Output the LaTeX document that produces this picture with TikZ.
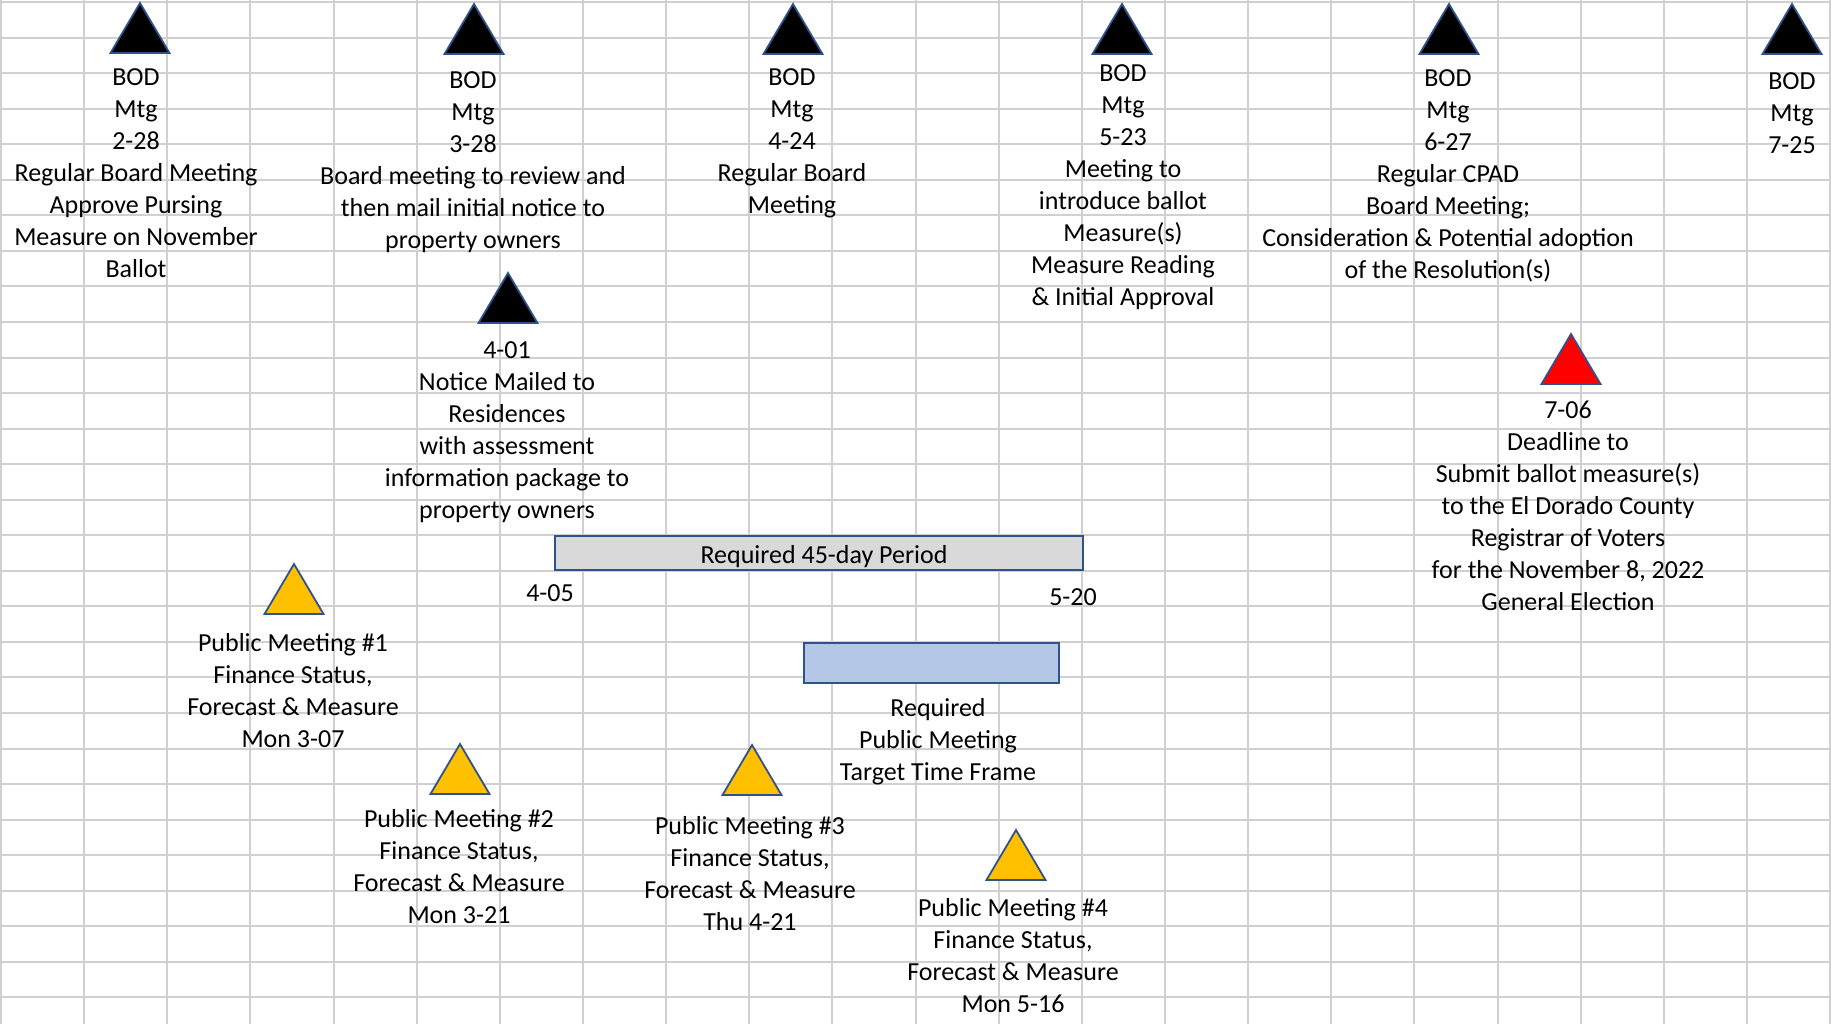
\documentclass[tikz,border=0pt]{standalone}
\usepackage{fontspec}
\setmainfont{Carlito}
\definecolor{gridc}{HTML}{D0D0D0}
\definecolor{outl}{HTML}{2F528F}
\definecolor{gold}{HTML}{FFC000}
\definecolor{grayfill}{HTML}{D9D9D9}
\definecolor{bluefill}{HTML}{B4C7E7}
\definecolor{redfill}{HTML}{FF0000}
\begin{document}
\begin{tikzpicture}[x=0.5pt,y=-0.5pt,
  lbl/.style={align=center, font=\fontsize{13pt}{16pt}\selectfont, inner sep=0pt, anchor=base},
  gridline/.style={draw=gridc, line width=1pt},
  barbox/.style={draw=outl, line width=1pt, inner sep=0pt},
  pics/marker/.style={code={\filldraw[draw=outl, line width=0.9pt, line join=miter, fill=#1] (0,0) -- (29.5,50) -- (-29.5,50) -- cycle;}}
]
\useasboundingbox (0,0) rectangle (1831,1024);
\fill[white] (0,0) rectangle (1831,1024);
\foreach \k in {0,...,22} \draw[gridline] ({1+83.14*\k},0) -- ({1+83.14*\k},1024);
\foreach \k in {0,...,28} \draw[gridline] (0,{2+35.55*\k}) -- (1831,{2+35.55*\k});

% markers
\pic at (140,3) {marker=black};
\pic at (474,4) {marker=black};
\pic at (793,4) {marker=black};
\pic at (1122,4) {marker=black};
\pic at (1449,4) {marker=black};
\pic at (1792,4) {marker=black};
\pic at (508,273) {marker=black};
\pic at (1571,334) {marker=redfill};
\pic at (294,564) {marker=gold};
\pic at (460,744) {marker=gold};
\pic at (752,745) {marker=gold};
\pic at (1016,830) {marker=gold};

% labels (anchored at the baseline of the last line)
\node[lbl] (b1) at (136,277) {BOD\\Mtg\\2-28\\Regular Board Meeting\\Approve Pursing\\Measure on November\\Ballot};
\node[lbl] (b2) at (473,248) {BOD\\Mtg\\3-28\\Board meeting to review and\\then mail initial notice to\\property owners};
\node[lbl] (b3) at (792,213) {BOD\\Mtg\\4-24\\Regular Board\\Meeting};
\node[lbl] (b4) at (1123,305) {BOD\\Mtg\\5-23\\Meeting to\\introduce ballot\\Measure(s)\\Measure Reading\\\& Initial Approval};
\node[lbl] (b5) at (1448,278) {BOD\\Mtg\\6-27\\Regular CPAD\\Board Meeting;\\Consideration \& Potential adoption\\of the Resolution(s)};
\node[lbl] (b6) at (1792,153) {BOD\\Mtg\\7-25};
\node[lbl] (n401) at (507,518) {4-01\\Notice Mailed to\\Residences\\with assessment\\information package to\\property owners};
\node[lbl] (n706) at (1568,610) {7-06\\Deadline to\\Submit ballot measure(s)\\to the El Dorado County\\Registrar of Voters\\for the November 8, 2022\\General Election};
\node[lbl] (pm1) at (293,747) {Public Meeting \#1\\Finance Status,\\Forecast \& Measure\\Mon 3-07};
\node[lbl] (pm2) at (459,923) {Public Meeting \#2\\Finance Status,\\Forecast \& Measure\\Mon 3-21};
\node[lbl] (pm3) at (750,930) {Public Meeting \#3\\Finance Status,\\Forecast \& Measure\\Thu 4-21};
\node[lbl] (pm4) at (1013,1012) {Public Meeting \#4\\Finance Status,\\Forecast \& Measure\\Mon 5-16};

% bars
\node[barbox, fill=grayfill, minimum width=264pt, minimum height=17pt] (p45) at (818.6,553) {};
\node[lbl] (p45t) at (824,563) {Required 45-day Period};
\node[barbox, fill=bluefill, minimum width=127.5pt, minimum height=20pt] (pmtf) at (931.5,663) {};
\node[lbl] (d405) at (550,601) {4-05};
\node[lbl] (d520) at (1073,605) {5-20};
\node[lbl] (tf) at (938,780) {Required\\Public Meeting\\Target Time Frame};
\end{tikzpicture}
\end{document}
